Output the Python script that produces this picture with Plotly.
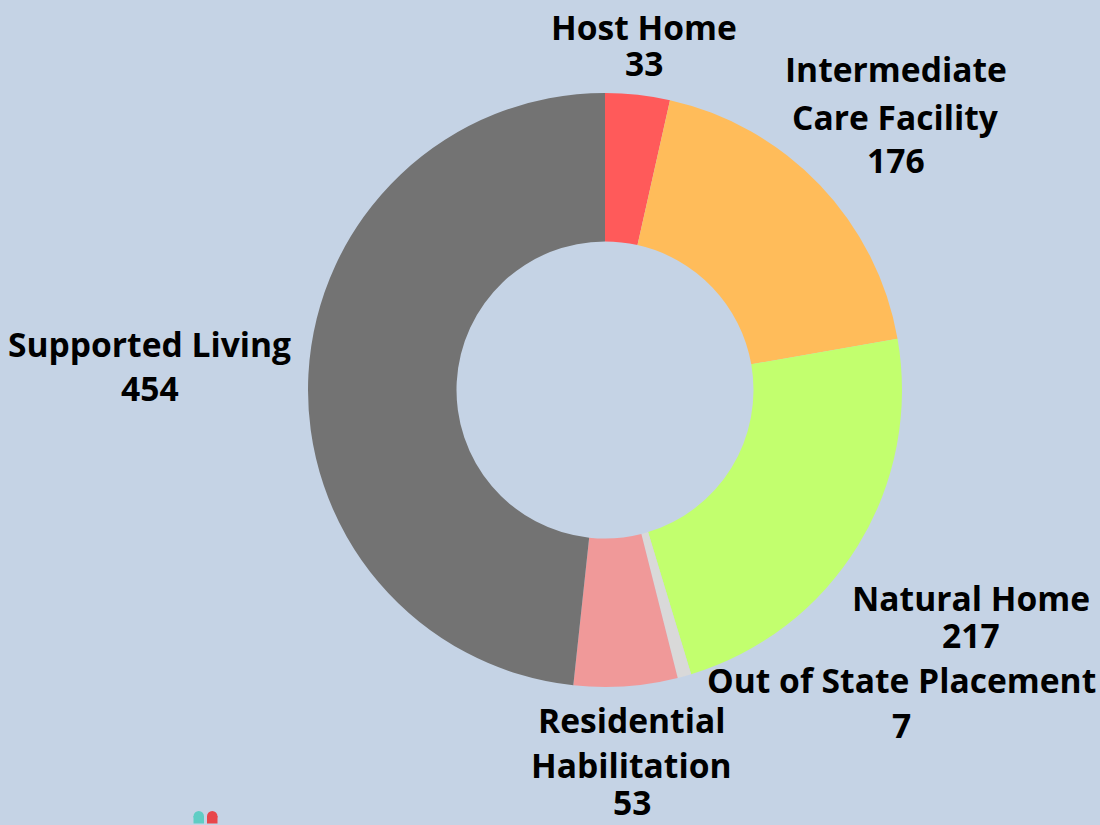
import plotly.graph_objects as go

categories = ["Host Home", "Intermediate Care Facility", "Natural Home",
              "Out of State Placement", "Residential Habilitation", "Supported Living"]
label_lines = [["Host Home"], ["Intermediate", "Care Facility"], ["Natural Home"],
               ["Out of State Placement"], ["Residential", "Habilitation"], ["Supported Living"]]
values = [33, 176, 217, 7, 53, 454]
colors = ["#FF5A5A", "#FFBC5A", "#C2FF6E", "#D9D9D9", "#F09999", "#737373"]

# label placement in page pixels (layout only): x centre, y centre of each text line
label_x_px = [643.5, 895.5, 971, 901, 631.5, 149.5]
label_line_y_px = [[27, 63.5], [68.7, 116.7, 160], [598.3, 635], [680, 725],
                   [719.5, 764.5, 801.5], [343.5, 388.3]]

W, H = 1100, 825
ML, MR, MT, MB = 308, 198, 93, 138
PW, PH = W - ML - MR, H - MT - MB
FS = 33.6


def px2paper(x, y):
    return (x - ML) / PW, (H - MB - y) / PH


fig = go.Figure(go.Pie(
    labels=categories,
    values=values,
    textinfo="none",
    hole=0.5,
    sort=False,
    direction="clockwise",
    rotation=0,
    marker=dict(colors=colors, line=dict(width=0)),
    showlegend=False,
    hoverinfo="label+value",
))

annotations = []
for lines, v, px, ys in zip(label_lines, values, label_x_px, label_line_y_px):
    for txt, py in zip(lines + [str(v)], ys):
        xp, yp = px2paper(px, py)
        annotations.append(dict(
            text=txt, x=xp, y=yp,
            xref="paper", yref="paper",
            xanchor="center", yanchor="middle", align="center",
            showarrow=False,
            font=dict(family="Open Sans", size=FS, color="black", weight=700),
        ))

# small logo marks at the bottom-left edge
shapes = []
for x0, col in [(193.5, "#5FCDC4"), (207, "#E8474B")]:
    a = px2paper(x0, 816)
    b = px2paper(x0 + 10.5, 823.5)
    shapes.append(dict(type="rect", xref="paper", yref="paper",
                       x0=a[0], x1=b[0], y0=b[1], y1=a[1],
                       fillcolor=col, line=dict(width=0)))
    c0 = px2paper(x0, 811)
    c1 = px2paper(x0 + 10.5, 821.5)
    shapes.append(dict(type="circle", xref="paper", yref="paper",
                       x0=c0[0], x1=c1[0], y0=c1[1], y1=c0[1],
                       fillcolor=col, line=dict(width=0)))

fig.update_layout(
    width=W, height=H,
    paper_bgcolor="#C5D3E5",
    plot_bgcolor="#C5D3E5",
    margin=dict(l=ML, r=MR, t=MT, b=MB),
    annotations=annotations,
    shapes=shapes,
)

fig.write_html("out.html", config={"displayModeBar": False},
               post_script="document.body.style.margin='0px';")
